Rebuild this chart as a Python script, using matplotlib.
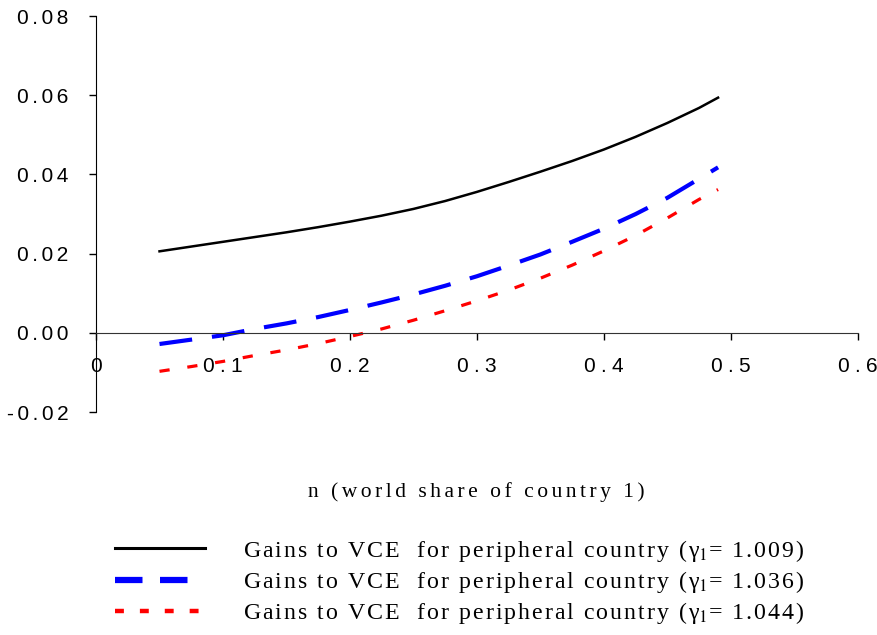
import numpy as np
import matplotlib
matplotlib.use("Agg")
import matplotlib.pyplot as plt
from matplotlib.lines import Line2D

# world share of country 1
n = [0.05, 0.075, 0.10, 0.125, 0.15, 0.175, 0.20, 0.225, 0.25, 0.275,
     0.30, 0.325, 0.35, 0.375, 0.40, 0.425, 0.45, 0.475, 0.49]

# gains to VCE for the peripheral country, one series per gamma_1
gain_1009 = [0.0206, 0.0218, 0.0230, 0.0242, 0.0254, 0.0267, 0.0281, 0.0296, 0.0313, 0.0333,
             0.0356, 0.0381, 0.0407, 0.0434, 0.0463, 0.0495, 0.0530, 0.0568, 0.0594]
gain_1036 = [-0.0028, -0.0017, -0.0006, 0.0010, 0.0024, 0.0040, 0.0058, 0.0077, 0.0097, 0.0119,
             0.0143, 0.0170, 0.0198, 0.0230, 0.0263, 0.0300, 0.0341, 0.0389, 0.0418]
gain_1044 = [-0.0097, -0.0085, -0.0072, -0.0057, -0.0043, -0.0027, -0.0009, 0.0010, 0.0032, 0.0056,
             0.0081, 0.0108, 0.0138, 0.0171, 0.0207, 0.0246, 0.0290, 0.0337, 0.0362]

gammas = ["1.009", "1.036", "1.044"]
x_ticks = [0, 0.1, 0.2, 0.3, 0.4, 0.5, 0.6]
y_ticks = [-0.02, 0.0, 0.02, 0.04, 0.06, 0.08]

plt.rcParams['mathtext.fontset'] = 'stix'

HS = "\u200a"


def spaced(s, sep=HS):
    # mimic the wide letter spacing of the original chart
    return sep.join(list(s))


sans = ['Liberation Sans', 'DejaVu Sans']
serif = ['Liberation Serif', 'DejaVu Serif']

fig = plt.figure(figsize=(8.77, 6.35), dpi=100)
ax = fig.add_axes([0.1095, 0.351, 0.8685, 0.6237])

ax.plot(n, gain_1009, color='black', lw=1.8)
ax.plot(n, gain_1036, color='blue', lw=3.0, dashes=(7.9, 4.8))
ax.plot(n, gain_1044, color='red', lw=2.3, dashes=(3.2, 5.6))

ax.set_xlim(0, 0.6)
ax.set_ylim(-0.02, 0.08)
ax.spines['top'].set_visible(False)
ax.spines['right'].set_visible(False)
ax.spines['bottom'].set_position(('data', 0))
ax.spines['bottom'].set_color('#333333')

ax.set_xticks(x_ticks)
ax.set_xticklabels(["0"] + [spaced(f"{v:.1f}", HS * 3) for v in x_ticks[1:]])
ax.set_yticks(y_ticks)
ax.set_yticklabels([spaced(f"{v:.2f}", HS * 2) for v in y_ticks])
ax.tick_params(axis='both', direction='out', length=5, width=1)
ax.tick_params(axis='x', pad=12)
ax.tick_params(axis='y', pad=15)
for lab in ax.get_xticklabels() + ax.get_yticklabels():
    lab.set_family(sans)
    lab.set_fontsize(15)

fig.text(0.543, 0.225, spaced("n (world share of country 1)", HS * 2),
         family=serif, fontsize=15.5, ha='center', va='center')

handles = [
    Line2D([], [], color='black', lw=2.2),
    Line2D([], [], color='blue', lw=4.5, dashes=(4.4, 2.8)),
    Line2D([], [], color='red', lw=3.2, dashes=(2.0, 3.6)),
]
labels = [spaced("Gains to VCE  for peripheral country (γ") + "$_1$" +
          spaced("= " + g + ")") for g in gammas]
leg = fig.legend(handles, labels, loc='upper left', bbox_to_anchor=(0.131, 0.153),
                 frameon=False, handlelength=3.76, handletextpad=1.62,
                 labelspacing=0.22, borderaxespad=0, borderpad=0,
                 prop={'family': serif, 'size': 17.2})

fig.savefig("out.png", dpi=100)
